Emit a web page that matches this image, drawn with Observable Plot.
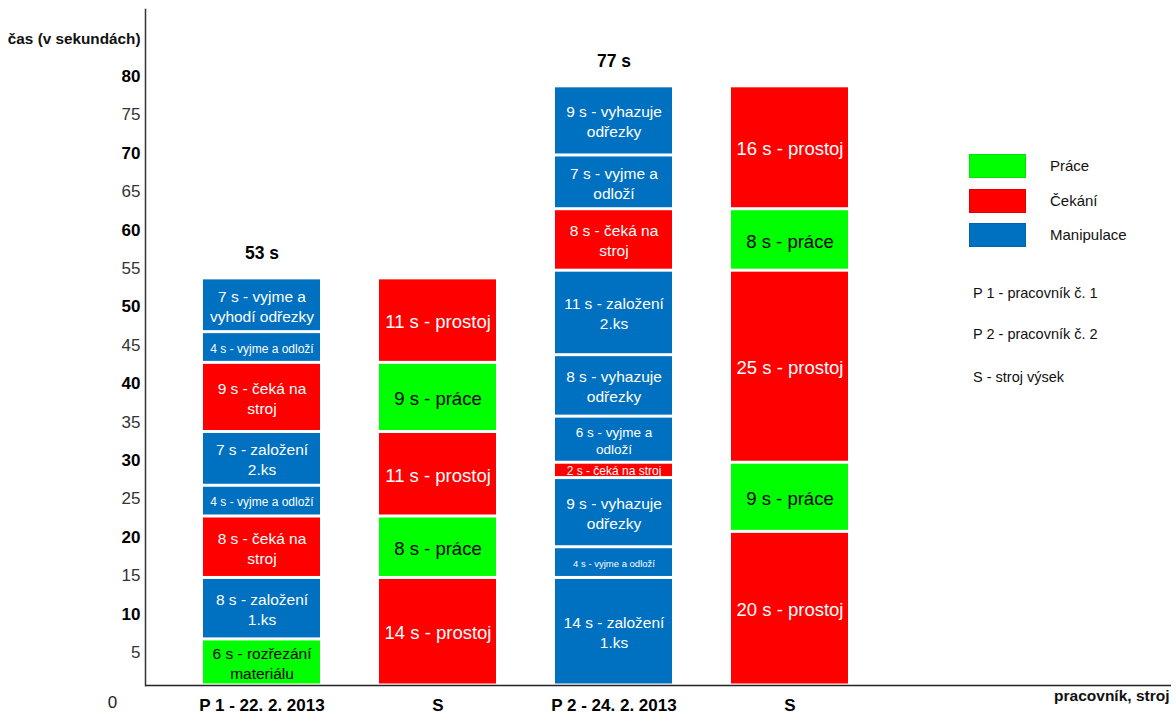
<!DOCTYPE html>
<html>
<head>
<meta charset="utf-8">
<script src="https://cdn.jsdelivr.net/npm/d3@7"></script>
<script src="https://cdn.jsdelivr.net/npm/@observablehq/plot@0.6"></script>
<style>
  html, body { margin: 0; padding: 0; background: #fff; }
  #wrap { position: relative; width: 1176px; height: 716px; font-family: "Liberation Sans", Arial, sans-serif; }
  #legend { position: absolute; left: 969px; top: 154px; color: #111; }
  .sw { position: absolute; width: 57px; height: 24px; left: 0; box-sizing: border-box; }
  .swl { position: absolute; left: 81px; font-size: 15px; line-height: 24px; white-space: nowrap; }
  .note { position: absolute; left: 4px; font-size: 14.5px; white-space: nowrap; line-height: 18px; }
</style>
</head>
<body>
<div id="wrap"></div>
<script>
// ---- data ----
const columnKeys = ["P1", "S1", "P2", "S2"];
const columnLabels = ["P 1 - 22. 2. 2013", "S", "P 2 - 24. 2. 2013", "S"];
const totalLabels = ["53 s", "", "77 s", ""];

const categories = ["Práce", "Čekání", "Manipulace"];
const categoryColors = ["#00ff00", "#ff0000", "#0070c0"];

const p1Values = [6, 8, 8, 4, 7, 9, 4, 7];
const p1Types = ["Práce", "Manipulace", "Čekání", "Manipulace", "Manipulace", "Čekání", "Manipulace", "Manipulace"];
const p1Labels = ["6 s - rozřezání\nmateriálu", "8 s - založení\n1.ks", "8 s - čeká na\nstroj", "4 s - vyjme a odloží",
  "7 s - založení\n2.ks", "9 s - čeká na\nstroj", "4 s - vyjme a odloží", "7 s - vyjme a\nvyhodí odřezky"];

const s1Values = [14, 8, 11, 9, 11];
const s1Types = ["Čekání", "Práce", "Čekání", "Práce", "Čekání"];
const s1Labels = ["14 s - prostoj", "8 s - práce", "11 s - prostoj", "9 s - práce", "11 s - prostoj"];

const p2Values = [14, 4, 9, 2, 6, 8, 11, 8, 7, 9];
const p2Types = ["Manipulace", "Manipulace", "Manipulace", "Čekání", "Manipulace", "Manipulace", "Manipulace", "Čekání", "Manipulace", "Manipulace"];
const p2Labels = ["14 s - založení\n1.ks", "4 s - vyjme a odloží", "9 s - vyhazuje\nodřezky", "2 s - čeká na stroj",
  "6 s - vyjme a\nodloží", "8 s - vyhazuje\nodřezky", "11 s - založení\n2.ks", "8 s - čeká na\nstroj",
  "7 s - vyjme a\nodloží", "9 s - vyhazuje\nodřezky"];

const s2Values = [20, 9, 25, 8, 16];
const s2Types = ["Čekání", "Práce", "Čekání", "Práce", "Čekání"];
const s2Labels = ["20 s - prostoj", "9 s - práce", "25 s - prostoj", "8 s - práce", "16 s - prostoj"];

const yTicksBold = [10, 20, 30, 40, 50, 60, 70, 80];
const yTicksNormal = [5, 15, 25, 35, 45, 55, 65, 75];
const yTitle = "čas (v sekundách)";
const xTitle = "pracovník, stroj";
const legendNotes = ["P 1 - pracovník č. 1", "P 2 - pracovník č. 2", "S - stroj výsek"];

// ---- build table ----
const series = [
  [p1Values, p1Types, p1Labels],
  [s1Values, s1Types, s1Labels],
  [p2Values, p2Types, p2Labels],
  [s2Values, s2Types, s2Labels]
];
const rows = [];
series.forEach(([vals, types, labels], ci) => {
  vals.forEach((v, i) => rows.push({col: columnKeys[ci], value: v, type: types[i], label: labels[i], idx: i}));
});
const totals = columnKeys.map((k, ci) => ({col: k, sum: d3.sum(series[ci][0]), label: totalLabels[ci]})).filter(d => d.label);
const labelOf = Object.fromEntries(columnKeys.map((k, i) => [k, columnLabels[i]]));

function fontSizeFor(d) {
  if (d.col.startsWith("S")) return 18.5;
  if (d.value <= 2) return 12;
  if (d.value <= 4) return d.col === "P2" ? 9.5 : 12;
  if (d.value === 6 && d.col === "P2") return 13.5;
  return 15.5;
}

const font = "'Liberation Sans', Arial, sans-serif";
const stackOpts = (extra) => Plot.stackY({x: "col", y: "value", order: null, ...extra});

const chart = Plot.plot({
  width: 1176,
  height: 716,
  marginLeft: 145,
  marginRight: 5,
  marginTop: 9,
  marginBottom: 31,
  style: {fontFamily: font, background: "white", color: "#000"},
  x: {domain: columnKeys, range: [202, 849.6], paddingInner: 0.335, paddingOuter: 0, label: null, axis: null},
  y: {domain: [0, 88], label: null, axis: null},
  color: {domain: categories, range: categoryColors},
  marks: [
    Plot.barY(rows, stackOpts({fill: "type", insetTop: 1.5, insetBottom: 1.5})),
    Plot.text(rows, stackOpts({text: d => d.type === "Práce" ? d.label : null, fill: "black", fontSize: fontSizeFor, lineHeight: 1.3})),
    Plot.text(rows, stackOpts({text: d => d.type !== "Práce" ? d.label : null, fill: "white", fontSize: fontSizeFor, lineHeight: 1.3})),
    Plot.ruleY([0], {stroke: "#222", strokeWidth: 1.5}),
    Plot.frame({anchor: "left", stroke: "#333", strokeWidth: 1.5}),
    Plot.axisY(yTicksBold, {tickSize: 0, tickPadding: 5, fontSize: 17, fontWeight: "bold", dy: 5.5, color: "#000", label: null}),
    Plot.axisY(yTicksNormal, {tickSize: 0, tickPadding: 5, fontSize: 17, fontWeight: "normal", dy: 5.5, color: "#333", label: null}),
    Plot.axisX({tickSize: 0, tickPadding: 13, fontSize: 17, fontWeight: "bold", color: "#000", tickFormat: k => labelOf[k], label: null}),
    Plot.text(["0"], {text: d => d, frameAnchor: "bottom-left", textAnchor: "middle", dx: -33, dy: 22, fontSize: 17, fill: "#222"}),
    Plot.text([yTitle], {text: d => d, frameAnchor: "top-left", textAnchor: "end", dx: -5, dy: 24, fontSize: 15.3, fontWeight: "bold", fill: "#111"}),
    Plot.text([xTitle], {text: d => d, frameAnchor: "bottom-right", textAnchor: "end", dx: -2, dy: 15, fontSize: 15.5, fontWeight: "bold", fill: "#111"}),
    Plot.text(totals, {x: "col", y: "sum", text: "label", dy: -25, fontSize: 17.5, fontWeight: "bold", fill: "#000"})
  ]
});

const wrap = document.getElementById("wrap");
wrap.appendChild(chart);

// ---- legend (HTML overlay) ----
const legend = document.createElement("div");
legend.id = "legend";
const swTops = [0, 35, 69];
categories.forEach((c, i) => {
  const sw = document.createElement("div");
  sw.className = "sw";
  sw.style.top = swTops[i] + "px";
  sw.style.background = categoryColors[i];
  sw.style.border = "1px solid " + d3.color(categoryColors[i]).darker(0.3);
  legend.appendChild(sw);
  const lb = document.createElement("div");
  lb.className = "swl";
  lb.style.top = swTops[i] + "px";
  lb.textContent = c;
  legend.appendChild(lb);
});
const noteTops = [130, 171, 214];
legendNotes.forEach((t, i) => {
  const n = document.createElement("div");
  n.className = "note";
  n.style.top = noteTops[i] + "px";
  n.textContent = t;
  legend.appendChild(n);
});
wrap.appendChild(legend);
</script>
</body>
</html>
